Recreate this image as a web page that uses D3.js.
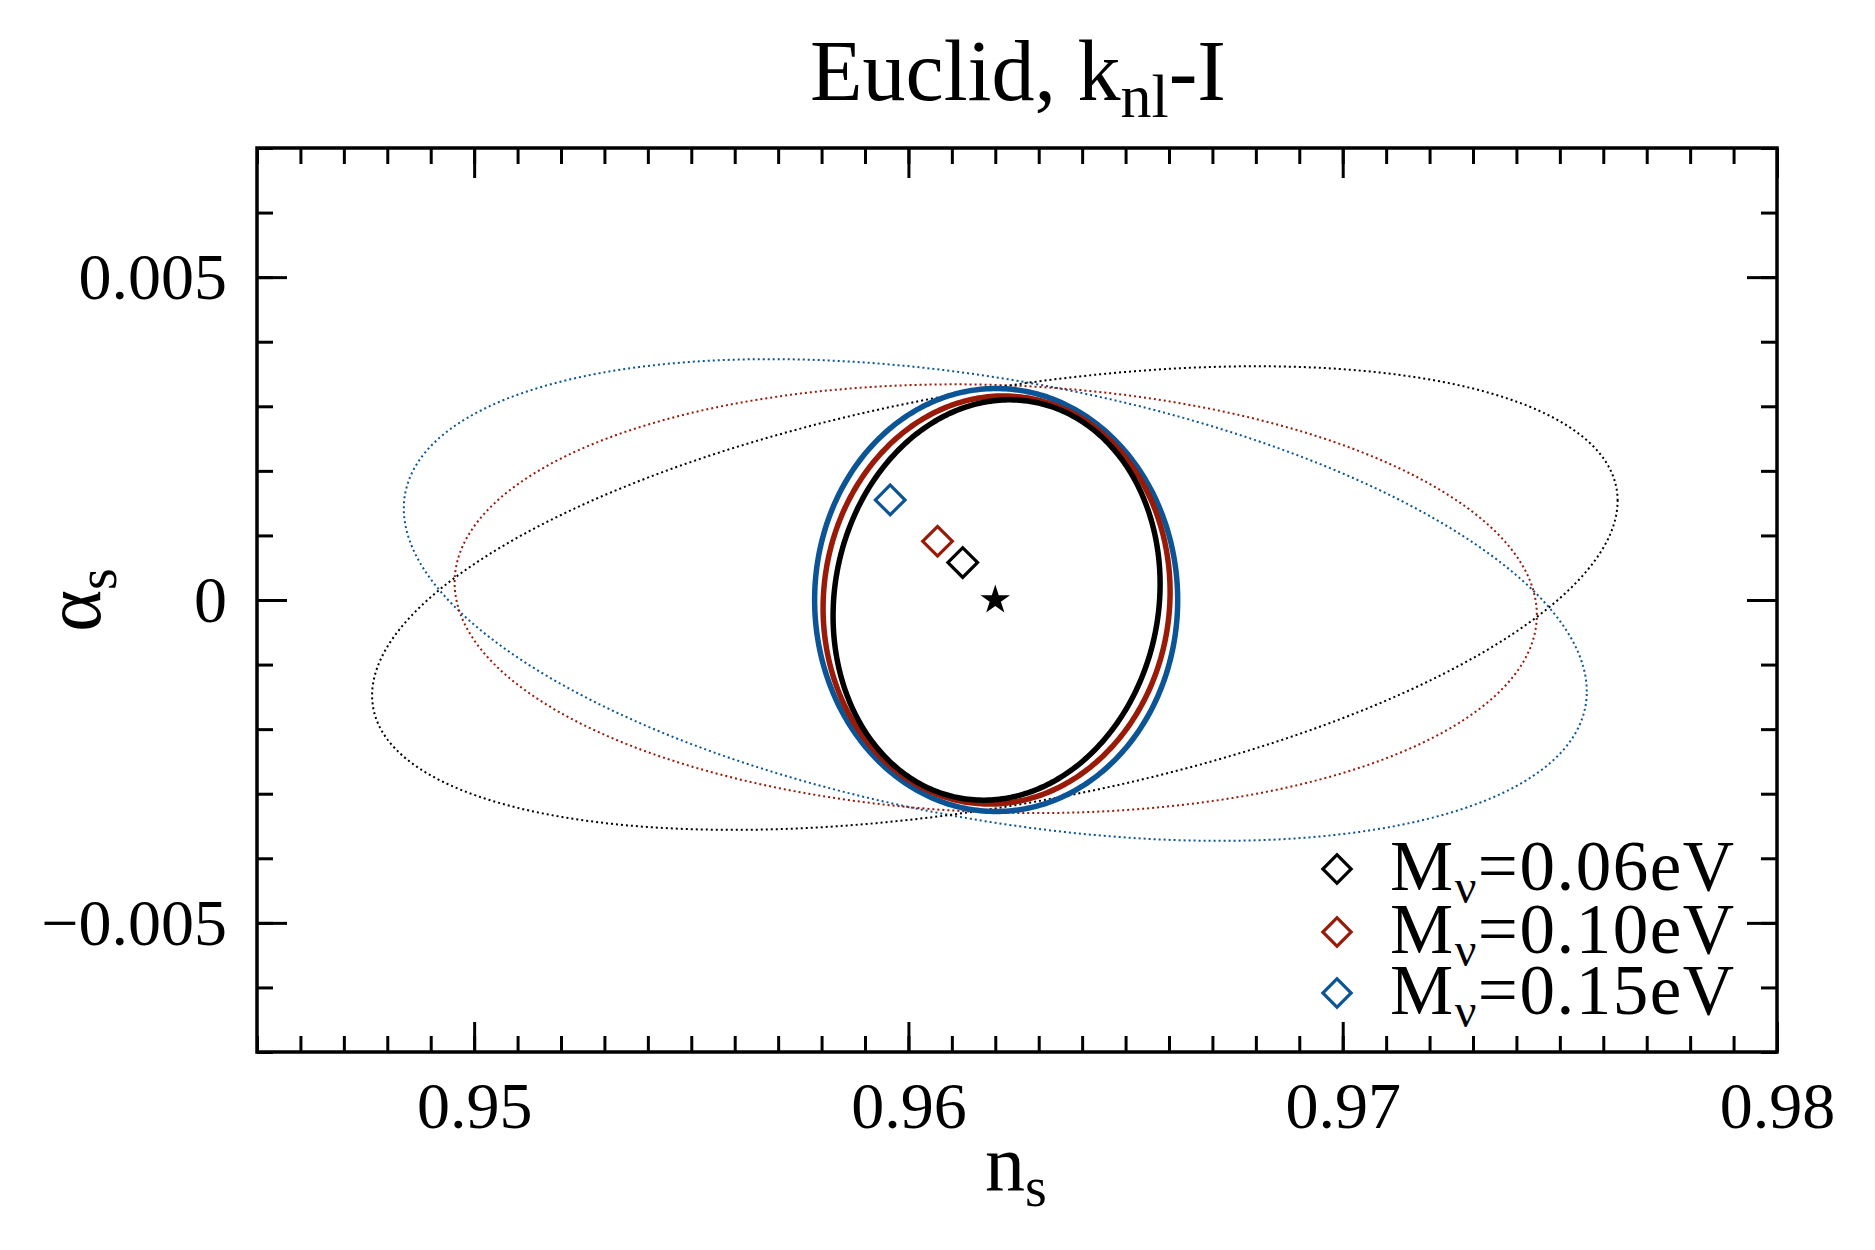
<!DOCTYPE html>
<html lang="en">
<head>
    <meta charset="UTF-8">
    <title>Euclid, knl-I</title>
    <script src="https://d3js.org/d3.v7.min.js"></script>
    <style>
        body { margin: 0; background: #fff; }
        svg { font-family: "Liberation Serif", "DejaVu Serif", serif; }
        .tick-label { font-size: 66px; fill: #000; }
        .axis-title { font-size: 80px; fill: #000; }
        .legend-text { font-size: 71px; fill: #000; letter-spacing: 1.5px; }
    </style>
</head>
<body>
<div id="chart"></div>
<script>
    // Axis ranges and tick labels
    const xDomain = [0.945, 0.98];
    const yDomain = [-0.007, 0.007];
    const xMajorTicks = [0.95, 0.96, 0.97, 0.98];
    const xTickLabels = ["0.95", "0.96", "0.97", "0.98"];
    const yMajorTicks = [-0.005, 0, 0.005];
    const yTickLabels = ["\u22120.005", "0", "0.005"];
    const minorStep = 0.001;

    // Neutrino masses (legend) and colours
    const massLabels = ["0.06eV", "0.10eV", "0.15eV"];
    const colors = ["#000000", "#9a1a08", "#0b5596"];

    // Fiducial point
    const fiducial = [0.962, 0];

    // Solid ellipses: centre, half-width, half-height, correlation
    const solidCx = [0.96203, 0.96203, 0.96202];
    const solidCy = [0.0, 0.0, 0.0];
    const solidHalfW = [0.003765, 0.003995, 0.00418];
    const solidHalfH = [0.0031, 0.00316, 0.003275];
    const solidRho = [0.08, 0.04, 0.0];

    // Dotted ellipses
    const dotCx = [0.96199, 0.96201, 0.96200];
    const dotCy = [0.00003, 0.00002, 0.0];
    const dotHalfW = [0.01434, 0.01246, 0.01362];
    const dotHalfH = [0.00359, 0.00332, 0.00373];
    const dotRho = [0.42, -0.075, -0.38];

    // Shifted best-fit points (diamonds)
    const shiftX = [0.96125, 0.96067, 0.95958];
    const shiftY = [0.00058, 0.00091, 0.00155];

    const width = 1875;
    const height = 1250;
    const margin = {top: 148, right: 98, bottom: 198, left: 257};

    const svg = d3.select("#chart")
        .append("svg")
        .attr("width", width)
        .attr("height", height);

    svg.append("rect").attr("width", width).attr("height", height).attr("fill", "#fff");

    const xScale = d3.scaleLinear().domain(xDomain).range([margin.left, width - margin.right]);
    const yScale = d3.scaleLinear().domain(yDomain).range([height - margin.bottom, margin.top]);

    const minorX = d3.range(xDomain[0], xDomain[1] + 1e-9, minorStep).map(v => +v.toFixed(4));
    const minorY = d3.range(yDomain[0], yDomain[1] + 1e-9, minorStep).map(v => +v.toFixed(4));

    // ellipse outline from centre / half-axes / correlation
    function ellipsePoints(cx, cy, hw, hh, rho) {
        const s = Math.sqrt(1 - rho * rho);
        return d3.range(0, 360, 1).map(a => {
            const t = a * Math.PI / 180;
            return [cx + hw * Math.cos(t), cy + hh * (rho * Math.cos(t) + s * Math.sin(t))];
        });
    }

    const line = d3.line()
        .x(d => xScale(d[0]))
        .y(d => yScale(d[1]))
        .curve(d3.curveLinearClosed);

    const plot = svg.append("g");

    // dotted ellipses
    [2, 1, 0].forEach(i => {
        plot.append("path")
            .attr("d", line(ellipsePoints(dotCx[i], dotCy[i], dotHalfW[i], dotHalfH[i], dotRho[i])))
            .attr("fill", "none")
            .attr("stroke", colors[i])
            .attr("stroke-width", 2)
            .attr("stroke-dasharray", "2 3");
    });

    // solid ellipses
    [2, 1, 0].forEach(i => {
        plot.append("path")
            .attr("d", line(ellipsePoints(solidCx[i], solidCy[i], solidHalfW[i], solidHalfH[i], solidRho[i])))
            .attr("fill", "none")
            .attr("stroke", colors[i])
            .attr("stroke-width", 5.5);
    });

    // diamonds
    const diamond = d3.symbol().type(d3.symbolSquare).size(440);
    plot.selectAll(".shift")
        .data(d3.range(3))
        .enter()
        .append("path")
        .attr("d", diamond)
        .attr("transform", i => `translate(${xScale(shiftX[i])},${yScale(shiftY[i])}) rotate(45)`)
        .attr("fill", "none")
        .attr("stroke", i => colors[i])
        .attr("stroke-width", 3.2);

    // fiducial star
    plot.append("path")
        .attr("d", d3.symbol().type(d3.symbolStar).size(270))
        .attr("transform", `translate(${xScale(fiducial[0])},${yScale(fiducial[1])})`)
        .attr("fill", "#000");

    // axes: inward ticks on all four sides
    function drawAxis(axisFn, scale, values, size, transform) {
        const g = svg.append("g")
            .attr("transform", transform)
            .call(axisFn(scale).tickValues(values).tickSize(-size).tickFormat(""));
        g.select(".domain").remove();
        g.selectAll(".tick line").attr("stroke", "#000").attr("stroke-width", 3);
        return g;
    }

    const bottomY = height - margin.bottom;
    const rightX = width - margin.right;

    drawAxis(d3.axisBottom, xScale, minorX, 16, `translate(0,${bottomY})`);
    drawAxis(d3.axisTop, xScale, minorX, 16, `translate(0,${margin.top})`);
    drawAxis(d3.axisLeft, yScale, minorY, 16, `translate(${margin.left},0)`);
    drawAxis(d3.axisRight, yScale, minorY, 16, `translate(${rightX},0)`);

    const xMajor = drawAxis(d3.axisBottom, xScale, xMajorTicks, 30, `translate(0,${bottomY})`);
    drawAxis(d3.axisTop, xScale, xMajorTicks, 30, `translate(0,${margin.top})`);
    const yMajor = drawAxis(d3.axisLeft, yScale, yMajorTicks, 30, `translate(${margin.left},0)`);
    drawAxis(d3.axisRight, yScale, yMajorTicks, 30, `translate(${rightX},0)`);

    xMajor.selectAll(".tick text")
        .attr("class", "tick-label")
        .attr("y", 76)
        .attr("dy", null)
        .text((d, i) => xTickLabels[i]);

    yMajor.selectAll(".tick text")
        .attr("class", "tick-label")
        .attr("x", -30)
        .attr("dy", "0.33em")
        .attr("text-anchor", "end")
        .text((d, i) => yTickLabels[i]);
    yMajor.attr("font-family", null).attr("font-size", null);
    xMajor.attr("font-family", null).attr("font-size", null);

    // frame
    svg.append("rect")
        .attr("x", margin.left)
        .attr("y", margin.top)
        .attr("width", rightX - margin.left)
        .attr("height", bottomY - margin.top)
        .attr("fill", "none")
        .attr("stroke", "#000")
        .attr("stroke-width", 3.5);

    // title
    const title = svg.append("text")
        .attr("class", "axis-title")
        .attr("x", 1018)
        .attr("y", 100)
        .attr("text-anchor", "middle")
        .style("font-size", "86px");
    title.append("tspan").text("Euclid, k");
    title.append("tspan").attr("dy", 17).style("font-size", "62px").text("nl");
    title.append("tspan").attr("dy", -17).text("-I");

    // x label
    const xl = svg.append("text")
        .attr("class", "axis-title")
        .attr("x", 1016)
        .attr("y", 1190)
        .attr("text-anchor", "middle");
    xl.append("tspan").text("n");
    xl.append("tspan").attr("dy", 16).style("font-size", "56px").text("s");

    // y label
    const yl = svg.append("text")
        .attr("class", "axis-title")
        .attr("transform", "translate(100,600) rotate(-90)")
        .attr("text-anchor", "middle");
    yl.append("tspan").text("\u03b1");
    yl.append("tspan").attr("dy", 16).style("font-size", "56px").text("s");

    // legend
    const legendRowY = [869, 932, 993];
    const legend = svg.append("g");
    massLabels.forEach((lab, i) => {
        legend.append("path")
            .attr("d", d3.symbol().type(d3.symbolSquare).size(400))
            .attr("transform", `translate(1337,${legendRowY[i]}) rotate(45)`)
            .attr("fill", "none")
            .attr("stroke", colors[i])
            .attr("stroke-width", 3.2);
        const t = legend.append("text")
            .attr("class", "legend-text")
            .attr("x", 1390)
            .attr("y", legendRowY[i] + 21);
        t.append("tspan").text("M");
        t.append("tspan").attr("dy", 13).style("font-size", "48px").text("\u03bd");
        t.append("tspan").attr("dy", -13).text("=" + lab);
    });
</script>
</body>
</html>
